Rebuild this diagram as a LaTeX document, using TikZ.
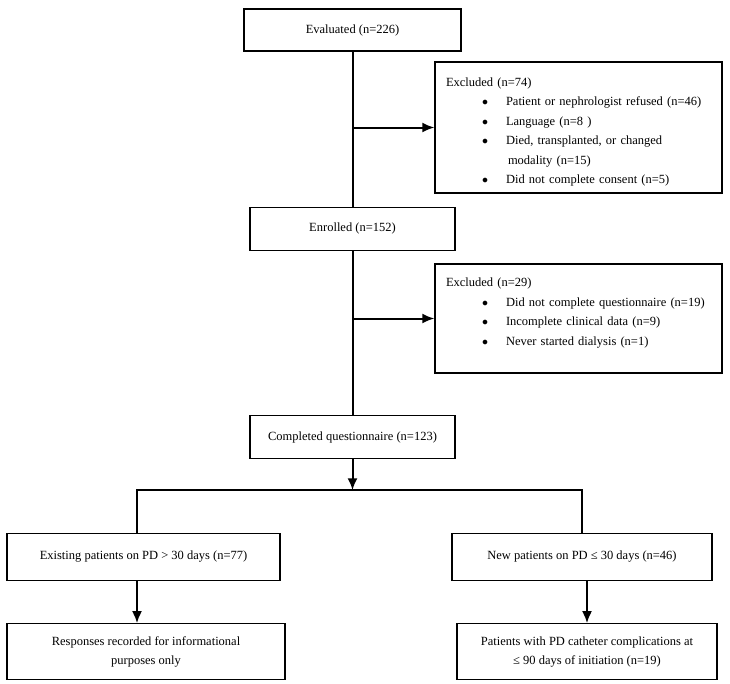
\documentclass[tikz,border=0pt]{standalone}
\usepackage{fontspec}
\setmainfont{Liberation Serif}
\usepackage{tikz}
\usetikzlibrary{arrows,arrows.meta,positioning,calc}
\tikzstyle{stage} = [rectangle, minimum width=205pt, minimum height=43pt, text centered, draw=black, line width=1.3pt, fill=white, align=center]
\tikzstyle{excl} = [rectangle, minimum width=287pt, text width=265pt, inner xsep=11pt, align=left, draw=black, line width=1.3pt, fill=white]
\tikzstyle{arrow} = [-{Latex[length=12pt,width=10pt]}, line width=2pt]
\tikzstyle{link} = [line width=2pt]
\newcommand{\bul}{\hspace*{36pt}\makebox[24pt][l]{$\bullet$}}

\begin{document}
\begin{tikzpicture}[x=1pt,y=-1pt,font=\fontsize{12.5}{19.5}\selectfont]
	\useasboundingbox (0,0) rectangle (730,683);
	%main column, then the side and bottom boxes
	\node (EV) [stage, minimum width=217pt, minimum height=42pt] at (352.5,30) {Evaluated (n=226)};
	\node (EN) [stage, below=155pt of EV] {Enrolled (n=152)};
	\node (CQ) [stage, below=164pt of EN] {Completed questionnaire (n=123)};
	\node (EX1) [excl, minimum height=131pt] at (578.5,127.5) {\rule{0pt}{18pt}Excluded (n=74)\\
		\bul Patient or nephrologist refused (n=46)\\
		\bul Language (n=8 )\\
		\bul Died, transplanted, or changed\\
		\hspace*{62pt}modality (n=15)\\
		\bul Did not complete consent (n=5)};
	\node (EX2) [excl, minimum height=109pt] at (578.5,318.5) {Excluded (n=29)\\
		\bul Did not complete questionnaire (n=19)\\
		\bul Incomplete clinical data (n=9)\\
		\bul Never started dialysis (n=1)\\[-6pt]\mbox{}};
	\coordinate (split) at ([yshift=-31pt]CQ.south);
	\node (EP) [stage, minimum width=273pt, minimum height=47pt] at (143.5,557) {Existing patients on PD > 30 days (n=77)};
	\node (NP) [stage, minimum width=260pt, minimum height=47pt] at (582,557) {New patients on PD ≤ 30 days (n=46)};
	\node (RR) [stage, minimum width=278pt, minimum height=56pt, below=42pt of EP, xshift=2.5pt] {Responses recorded for informational\\purposes only};
	\node (PC) [stage, minimum width=260pt, minimum height=56pt, below=42pt of NP, xshift=5pt] {Patients with PD catheter complications at\\≤ 90 days of initiation (n=19)};
	\coordinate (b1) at (EV.south |- EX1.west);
	\coordinate (b2) at (EN.south |- EX2.west);
	\draw [link](EV) -- (EN);
	\draw [arrow](b1) -- (EX1);
	\draw [link](EN) -- (CQ);
	\draw [arrow](b2) -- (EX2);
	\draw [arrow](CQ) -- (split);
	\draw [link]([xshift=-6.5pt]EP.north) |- (split) -| (NP.north);
	\draw [arrow]([xshift=-6.5pt]EP.south) -- ([xshift=-6.5pt]EP.south |- RR.north);
	\draw [arrow](PC.north |- NP.south) -- (PC.north);
\end{tikzpicture}
\end{document}
